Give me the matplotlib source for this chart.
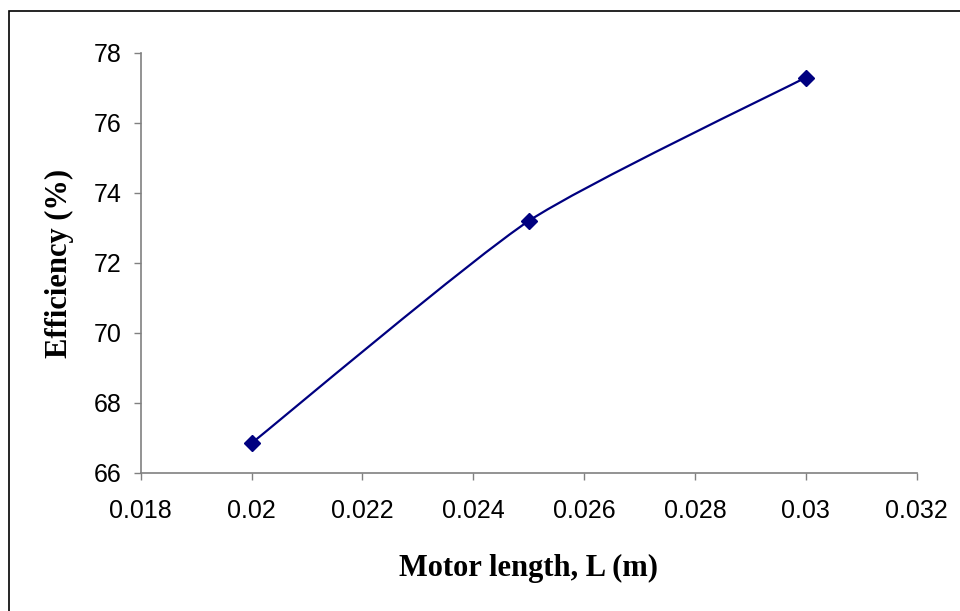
import matplotlib.pyplot as plt
from matplotlib.path import Path
from matplotlib.patches import PathPatch, Rectangle

# values
motor_length = [0.020, 0.025, 0.030]
efficiency = [66.85, 73.2, 77.3]
x_ticks = [0.018, 0.02, 0.022, 0.024, 0.026, 0.028, 0.03, 0.032]
x_tick_labels = ['0.018', '0.02', '0.022', '0.024', '0.026', '0.028', '0.03', '0.032']
y_ticks = [66, 68, 70, 72, 74, 76, 78]

fig = plt.figure(figsize=(9.6, 6.11), dpi=100)
ax = fig.add_axes([140.7 / 960, 1 - 473 / 611, 776 / 960, 420 / 611])

# smoothed line (Excel style) - bezier segments through the data points
pts = list(zip(motor_length, efficiency))
ext = [pts[0]] + pts + [pts[-1]]
verts = [pts[0]]
codes = [Path.MOVETO]
k = 1 / 10
for i in range(1, len(ext) - 2):
    p0, p1, p2, p3 = ext[i - 1], ext[i], ext[i + 1], ext[i + 2]
    c1 = (p1[0] + (p2[0] - p0[0]) * k, p1[1] + (p2[1] - p0[1]) * k)
    c2 = (p2[0] - (p3[0] - p1[0]) * k, p2[1] - (p3[1] - p1[1]) * k)
    verts += [c1, c2, p2]
    codes += [Path.CURVE4] * 3
ax.add_patch(PathPatch(Path(verts, codes), fill=False, edgecolor='#000080', lw=1.6))
ax.plot(motor_length, efficiency, linestyle='none', marker='D', ms=8,
        color='#000080')

ax.set_xlim(0.018, 0.032)
ax.set_ylim(66, 78)
ax.set_xticks(x_ticks)
ax.set_xticklabels(x_tick_labels)
ax.set_yticks(y_ticks)

for s in ['top', 'right']:
    ax.spines[s].set_visible(False)
for s in ['left', 'bottom']:
    ax.spines[s].set_color('#808080')
    ax.spines[s].set_linewidth(1.2)
ax.tick_params(direction='out', length=5, width=1, color='#808080',
               labelsize=18, pad=9)
ax.tick_params(axis='x', pad=14)
for lab in ax.get_xticklabels() + ax.get_yticklabels():
    lab.set_family('Liberation Sans')

ax.set_xlabel('Motor length, L (m)', family='Liberation Serif',
              fontweight='bold', fontsize=22, labelpad=22)
ax.set_ylabel('Efficiency (%)', family='Liberation Serif',
              fontweight='bold', fontsize=22, labelpad=14)

# chart area border
fig.patches.append(Rectangle((9 / 960, -0.01), 1.0, 1 - 11 / 611 + 0.01,
                             transform=fig.transFigure, fill=False,
                             edgecolor='black', lw=1.2))

plt.savefig('out.png')
